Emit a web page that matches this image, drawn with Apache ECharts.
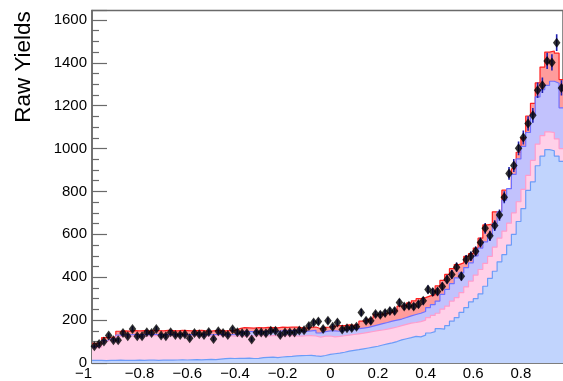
<!DOCTYPE html>
<html>
<head>
<meta charset="utf-8">
<script src="https://cdn.jsdelivr.net/npm/echarts@6/dist/echarts.min.js"></script>
<style>
html,body{margin:0;padding:0;background:#fff;}
#c{width:563px;height:381px;}
</style>
</head>
<body>
<div id="c"></div>
<script>
// 100 bins of width 0.02 from -1 to 1 (stack levels = cumulative tops of each component)
const xTicks = [-1, -0.8, -0.6, -0.4, -0.2, 0, 0.2, 0.4, 0.6, 0.8];
const yTicks = [0, 200, 400, 600, 800, 1000, 1200, 1400, 1600];

const lightBlueTop = [12,12,11,12,12,13,12,12,12,13,
 12,13,13,12,13,14,13,14,15,14,
 15,16,15,16,17,16,18,20,22,21,
 22,22,23,21,22,25,26,27,25,28,
 30,31,33,34,35,36,33,31,35,40,
 43,46,50,55,59,62,66,70,74,78,
 84,89,94,100,108,113,118,124,122,130,
 140,146,160,158,174,195,212,236,258,285,
 300,322,358,395,428,472,505,550,600,660,
 720,805,845,920,965,995,990,965,940,930];

const pinkTop = [72,74,100,106,108,124,126,125,127,126,
 127,126,128,127,126,128,127,126,128,127,
 126,127,128,126,125,127,128,126,127,125,
 126,124,127,126,128,127,126,128,127,126,
 127,128,126,125,127,128,126,121,125,126,
 122,124,127,130,133,136,139,143,147,151,
 154,158,163,168,174,180,186,189,193,200,
 212,222,232,251,265,289,305,328,355,382,
 410,436,465,497,540,582,615,652,700,752,
 810,875,945,1021,1060,1078,1075,1045,1000,980];

const lavenderTop = [76,78,104,112,114,130,132,131,133,132,
 133,132,134,133,132,134,133,132,134,133,
 132,133,134,132,131,133,134,132,133,134,
 140,148,147,146,148,147,149,148,147,150,
 150,151,152,149,147,150,152,140,146,150,
 150,148,153,156,158,160,163,166,172,178,
 184,189,195,200,205,212,220,226,232,240,
 258,272,289,320,343,370,397,420,445,467,
 500,536,565,598,650,705,760,813,880,952,
 1010,1075,1160,1241,1275,1295,1314,1305,1190,1170];

const redTop = [92,94,118,120,122,148,150,149,151,150,
 151,150,152,151,150,152,151,150,152,151,
 150,151,152,150,149,151,152,150,151,152,
 160,165,164,163,165,164,166,165,164,167,
 166,167,168,165,163,166,168,160,166,168,
 172,175,174,178,176,180,195,204,210,225,
 228,232,236,245,265,270,280,290,300,305,
 313,318,360,385,413,440,459,467,497,510,
 536,582,644,648,705,705,806,810,906,983,
 1050,1152,1211,1306,1380,1450,1455,1445,1322,1300];

const dataYields = [78,89,100,128,106,106,140,125,159,125,
 125,143,140,159,128,125,143,131,131,134,
 116,140,134,131,145,112,148,140,131,157,
 143,139,139,110,142,142,139,150,150,131,
 142,142,142,152,153,172,189,194,159,197,
 169,189,156,162,163,169,236,197,197,228,
 225,233,243,243,282,263,267,263,274,290,
 343,331,333,357,390,413,447,405,482,498,
 521,562,628,593,641,690,773,884,921,1001,
 1052,1117,1155,1272,1295,1409,1402,1494,1283,1250];

const NB = 100, XLO = -1, BW = 0.02;
const XMAX_VISIBLE = 0.9765; // the frame is cut by the picture edge here

function stepData(levels){
  const d = levels.map((v,i)=>[XLO + BW*i, v]);
  d.push([XLO + BW*NB, levels[levels.length-1]]);
  return d;
}
function histSeries(levels, fill, line, z){
  return {
    type:'line', step:'end', data: stepData(levels), symbol:'none', clip:true,
    lineStyle:{color: line, width: 1.2},
    areaStyle:{color: fill, opacity: 1, origin: 'start'},
    z: z, silent: true, animation: false
  };
}
const points = dataYields.map((v,i)=>[XLO + BW*(i+0.5), v]);

const chart = echarts.init(document.getElementById('c'), null, {renderer:'canvas'});
const FONT = 'Liberation Sans, Arial, Helvetica, sans-serif';
chart.setOption({
  animation:false,
  grid:{left:92, top:10.5, right:0, bottom:15.5, show:true, borderColor:'#6a6a6a', borderWidth:1.5, backgroundColor:'transparent'},
  xAxis:{
    type:'value', min:-1, max:XMAX_VISIBLE, interval:0.2,
    axisLine:{show:true, onZero:false, lineStyle:{color:'#7a7a7a', width:1.5}},
    axisTick:{show:false},
    splitLine:{show:false},
    axisLabel:{
      color:'#000', fontSize:15, fontFamily:FONT, margin:3, alignMinLabel:'right',
      showMaxLabel:false,
      formatter:function(v){
        const t = xTicks.find(a=>Math.abs(a-v)<1e-6);
        if (t===undefined) return '';
        const s = String(Math.abs(Math.round(t*10)/10));
        return (t<0 ? '\u2212' : '') + s;
      }
    }
  },
  yAxis:{
    type:'value', min:0, max:1644, interval:200,
    axisLine:{show:true, onZero:false, lineStyle:{color:'#6a6a6a', width:1.5}},
    axisTick:{show:true, inside:true, length:15, lineStyle:{color:'#6a6a6a', width:1.2}},
    minorTick:{show:true, splitNumber:4, length:7, lineStyle:{color:'#6a6a6a', width:1.2}},
    splitLine:{show:false},
    axisLabel:{
      color:'#000', fontSize:15, fontFamily:FONT, margin:5, showMaxLabel:false,
      formatter:function(v){ return yTicks.indexOf(v)>=0 ? String(v) : ''; }
    }
  },
  graphic:[{
    type:'text', x:24, y:67, rotation:Math.PI/2,
    style:{text:'Raw Yields', fontSize:22.5, fontFamily:FONT, fill:'#000', align:'center', verticalAlign:'middle'}
  }],
  series:[
    histSeries(redTop, '#ff9c9c', '#ff2020', 1),
    histSeries(lavenderTop, '#c2c2fd', '#7070ff', 2),
    histSeries(pinkTop, '#ffd0e8', '#ff9ccc', 3),
    histSeries(lightBlueTop, '#c1d4fd', '#6c9cf8', 4),
    {
      type:'custom', z:5, silent:true, animation:false, clip:true,
      data: points,
      renderItem:function(params, api){
        const x = api.value(0), v = api.value(1), e = Math.sqrt(v);
        const p1 = api.coord([x, v - e]), p2 = api.coord([x, v + e]);
        return {type:'line', shape:{x1:p1[0], y1:p1[1], x2:p2[0], y2:p2[1]},
                style:{stroke:'#1f1fb0', lineWidth:1.6}};
      }
    },
    {
      type:'scatter', z:6, silent:true, animation:false, clip:true,
      data: points, symbol:'diamond', symbolSize:[7.5, 10],
      itemStyle:{color:'#000'}
    }
  ]
});
</script>
</body>
</html>
